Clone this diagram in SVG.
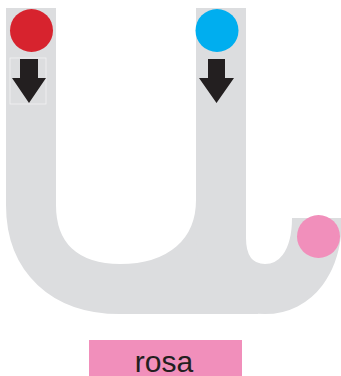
<svg xmlns="http://www.w3.org/2000/svg" width="341" height="376" viewBox="0 0 341 376">
<style>
.track{fill:none;stroke:#dcdddf;stroke-width:50;stroke-linecap:butt;stroke-linejoin:round}
.arrow{fill:#231f20}
.abox{fill:none;stroke:#f2f2f2;stroke-width:0.8}
.label{font-family:"Liberation Sans",Arial,sans-serif;font-size:30px;fill:#231f20;text-anchor:middle}
</style>
<rect width="341" height="376" fill="#ffffff"/>
<g id="connectors">
<path class="track" d="M31,8 V205 C31,258 65,289 120,289 C180,289 221,255 221,200 V8"/>
<path class="track" d="M221,150 V238 C221,272 240,289 265,289 C296,289 317,262 317,218"/>
<rect x="118" y="264" width="140" height="50" fill="#dcdddf"/>
</g>
<g id="start-red">
<circle cx="31.5" cy="30.5" r="21.5" fill="#d7232e"/>
<rect class="abox" x="10" y="58" width="36" height="46"/>
<polygon class="arrow" points="20,59 38,59 38,78 46,78 29,103 12,78 20,78"/>
</g>
<g id="start-blue">
<circle cx="217" cy="30.5" r="21.5" fill="#00aeef"/>
<polygon class="arrow" points="208,59 225,59 225,78 234,78 216.5,103 199,78 208,78"/>
</g>
<g id="end-pink">
<circle cx="318.5" cy="236.5" r="21.5" fill="#f18fbb"/>
</g>
<g id="label-rosa">
<rect x="89" y="340" width="153" height="36" fill="#f18fbb"/>
<text class="label" x="164" y="371.5">rosa</text>
</g>
</svg>
